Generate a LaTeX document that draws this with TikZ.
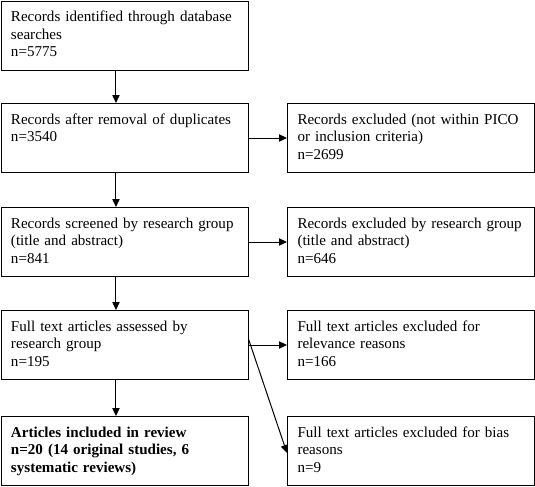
\documentclass[tikz,border=0pt]{standalone}
\usepackage{fontspec}
\setmainfont{Liberation Serif}
\usetikzlibrary{arrows.meta}

\begin{document}
\begin{tikzpicture}[x=0.75pt,y=0.75pt,yscale=-1,xscale=1,
  box/.style={draw, line width=0.75pt, anchor=north west, align=left,
    text width=170.25pt, inner xsep=7.5pt, inner ysep=7pt,
    text height=8.7pt, text depth=29.05pt,
    font=\fontsize{11.3}{13}\selectfont},
  arr/.style={line width=0.75pt, -{Triangle[length=6pt,width=5.5pt]}}]
\useasboundingbox (0,0) rectangle (535,486);

% Text Node
\node [box] (ident) at (0.5,0.5) {Records identified through database\\searches\\n=5775};
% Text Node
\node [box] (dupl) at (0.5,103) {Records after removal of duplicates\\n=3540};
% Text Node
\node [box] (screen) at (0.5,207) {Records screened by research group\\(title and abstract)\\n=841};
% Text Node
\node [box] (full) at (0.5,310) {Full text articles assessed by\\research group\\n=195};
% Text Node
\node [box, font=\fontsize{11.3}{13}\selectfont\bfseries] (incl) at (0.5,416) {Articles included in review\\n=20 (14 original studies, 6\\systematic reviews)};
% Text Node
\node [box] (exPico) at (287,103) {Records excluded (not within PICO\\or inclusion criteria)\\n=2699};
% Text Node
\node [box] (exGroup) at (287,207) {Records excluded by research group\\(title and abstract)\\n=646};
% Text Node
\node [box] (exRel) at (287,310) {Full text articles excluded for\\relevance reasons\\n=166};
% Text Node
\node [box] (exBias) at (287,416) {Full text articles excluded for bias\\reasons\\n=9};

%Straight Lines
\draw [arr] ([xshift=-6.4pt]ident.south) -- ([xshift=-6.4pt]dupl.north) ;
\draw [arr] ([xshift=-6.4pt]dupl.south) -- ([xshift=-6.4pt]screen.north) ;
\draw [arr] ([xshift=-6.4pt]screen.south) -- ([xshift=-6.4pt]full.north) ;
\draw [arr] ([xshift=-6.4pt]full.south) -- ([xshift=-6.4pt]incl.north) ;
%Straight Lines
\draw [arr] (dupl.east) -- (exPico.west) ;
\draw [arr] (screen.east) -- (exGroup.west) ;
\draw [arr] (full.east) -- (exRel.west) ;
\draw [arr] ([yshift=-4.5pt]full.east) -- ([yshift=1.5pt]exBias.west) ;

\end{tikzpicture}
\end{document}
